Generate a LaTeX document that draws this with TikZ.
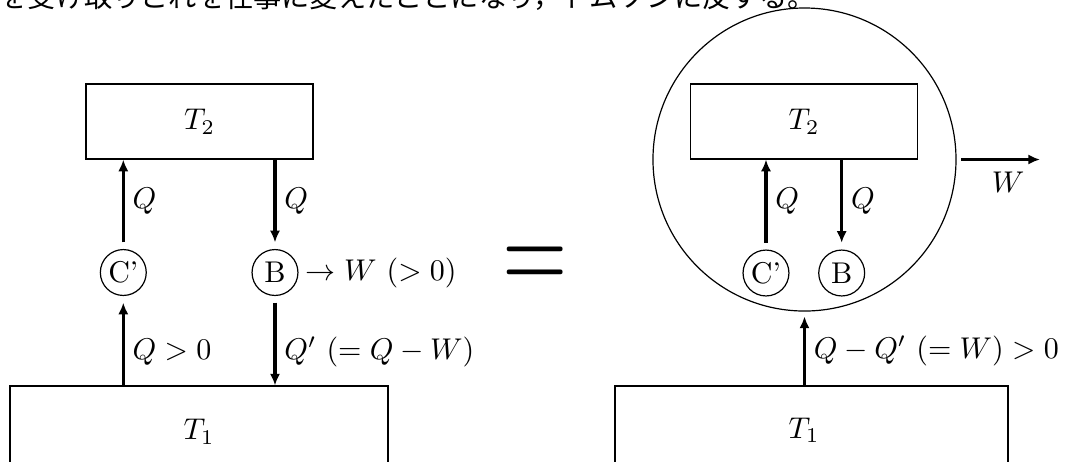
\documentclass[tikz,border=0pt]{standalone}
\usepackage{fontspec}
\newfontfamily\jpfonte{Noto Sans CJK JP}
\usepackage{tikz}
\usetikzlibrary{arrows.meta, positioning}

\begin{document}
\begin{tikzpicture}[
        x=0.3333pt, y=-0.3333pt,
        caixa/.style={draw, minimum width=75.7pt, minimum height=25pt, inner sep=0pt},
        banho/.style={draw, minimum width=#1, minimum height=30.3pt, inner sep=0pt},
        maquina/.style={draw, circle, minimum size=15.3pt, inner sep=0pt, outer sep=2.4pt},
        seta/.style={-{Latex[length=3.9pt, width=3.4pt]}, line width=1.05pt},
        rotulo/.style={inner sep=0pt, right=2.6pt}
    ]
        \useasboundingbox (0,0) rectangle (1070,461);

        % texto cortado no topo
        \node[anchor=base west, inner sep=0pt, font=\jpfonte\fontsize{9.4}{11}\selectfont] (cabecalho) at (-1,7) {を受け取りこれを仕事に変えたことになり，トムソンに反する。};

        % lado esquerdo
        \node[caixa] (quenteE) at (199.5,121.5) {$T_2$};
        \node[banho=126pt] (frioE) at (199,431.5) {$T_1$};
        \node[maquina] (cE) at (123.3,272.5) {C'};
        \node[maquina] (bE) at (275,272.5) {B};
        \node[right=0pt of bE, inner sep=0pt] (trabE) {$\rightarrow W\ (>0)$};

        \draw[seta] (cE.north) -- (cE.north |- quenteE.south) node[rotulo, midway] {$Q$};
        \draw[seta] (bE.north |- quenteE.south) -- (bE.north) node[rotulo, midway] {$Q$};
        \draw[seta] (cE.south |- frioE.north) -- (cE.south) node[rotulo, pos=0.4] {$Q>0$};
        \draw[seta] (bE.south) -- (bE.south |- frioE.north) node[rotulo, pos=0.6] {$Q'\ (=Q-W)$};

        \node (igual) at (535.3,268.8) {\scalebox{2.8}[3.95]{$=$}};

        % lado direito
        \node[draw, circle, minimum size=101pt, inner sep=0pt, outer sep=1.8pt] (sistema) at (804.5,159.5) {};
        \node[caixa] (quenteD) at (804,121.5) {$T_2$};
        \node[maquina] (cD) at (766,273) {C'};
        \node[maquina] (bD) at (841.7,273) {B};
        \node[banho=131pt] (frioD) at (811.5,431.5) {};
        \node (rotT1) at (804,430) {$T_1$};
        \coordinate (saida) at (1040,159.5);
        \node (trabD) at (1008,182) {$W$};

        \draw[seta] (cD.north) -- (cD.north |- quenteD.south) node[rotulo, midway] {$Q$};
        \draw[seta] (bD.north |- quenteD.south) -- (bD.north) node[rotulo, midway] {$Q$};
        \draw[seta] (sistema.east) -- (saida);
        \draw[seta] (frioD.north -| sistema.south) -- (sistema.south) node[rotulo, midway] {$Q-Q'\ (=W)>0$};
    \end{tikzpicture}
\end{document}
